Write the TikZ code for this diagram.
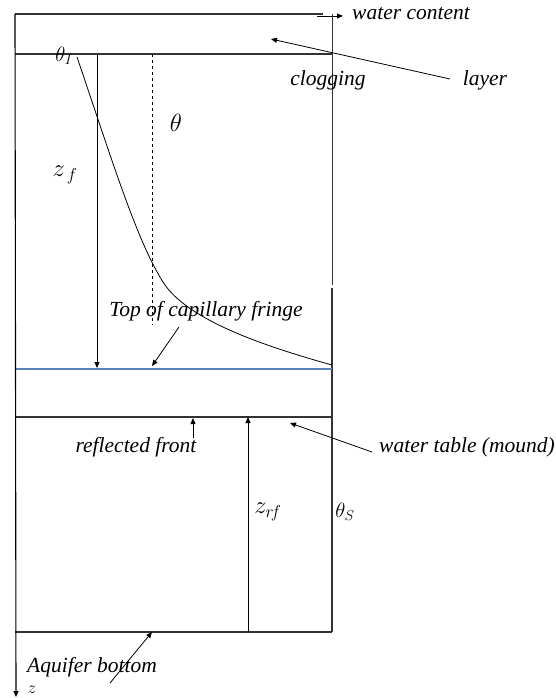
\documentclass[tikz,border=0pt]{standalone}
\usepackage{fontspec}
\setmainfont{Liberation Serif}
\usetikzlibrary{arrows.meta}
\begin{document}
\begin{tikzpicture}[x=1pt,y=-1pt,
  frame/.style={line width=1.3pt,draw=black!80},
  arr/.style={-{Triangle[length=6pt,width=5pt]},line width=0.8pt},
  lbl/.style={font=\fontsize{21.5}{22}\selectfont\itshape,inner sep=0pt},
  mlbl/.style={inner sep=0pt}]
\useasboundingbox (0,0) rectangle (555,698);
% coordinates
\coordinate (tl) at (15,14);
\coordinate (tr) at (323,14);
\coordinate (rtop) at (332,14);
\coordinate (cl) at (15,54);
\coordinate (cr) at (332,54);
\coordinate (rgap) at (332,285);
\coordinate (rgap2) at (332,288);
\coordinate (bl) at (15,369);
\coordinate (br) at (332,369);
\coordinate (wl) at (15,417);
\coordinate (wr) at (332,417);
\coordinate (al) at (15,632);
\coordinate (ar) at (332,632);
\coordinate (zend) at (16,697);
% frame lines
\draw[frame] (tl) -- (tr);
\draw[arr] (317,16) coordinate (wa0) -- (343,16) coordinate (wa1);
\draw[frame,line width=1pt] (rtop) -- (rgap);
\draw[frame,line width=1.6pt] (rgap2) -- (ar);
\draw[frame] (cl) -- (cr);
\draw[line width=1.8pt,draw={rgb,255:red,91;green,128;blue,184}] (bl) -- (br);
\draw[frame] (wl) -- (wr);
\draw[frame] (al) -- (ar);
\draw[arr,line width=1.1pt] (tl) -- (zend);
% z_f arrow
\coordinate (zf0) at (97,54);
\coordinate (zf1) at (97,368);
\draw[arr] (zf0) -- (zf1);
% dashed
\coordinate (d0) at (152,54);
\coordinate (d1) at (152,325);
\draw[dashed,line width=0.7pt] (d0) -- (d1);
% curve
\coordinate (cs) at (77,57);
\coordinate (cm) at (165,285);
\coordinate (ce) at (332,365);
\draw[line width=0.8pt] (cs) .. controls (112,160) and (138,245) .. (cm)
  .. controls (190,320) and (260,345) .. (ce);
% z_rf arrow
\coordinate (zr0) at (248,632);
\coordinate (zr1) at (248,417);
\draw[arr] (zr0) -- (zr1);
% labels
\node[lbl,anchor=west] (wc) at (352,14) {water content};
\node[lbl] (clog) at (328,80) {clogging};
\node[lbl] (lay) at (485,80) {layer};
\coordinate (la0) at (450,79);
\coordinate (la1) at (271,39);
\draw[arr] (la0) -- (la1);
\node[mlbl,font=\fontsize{21}{21}\selectfont] (thI) at (64,56) {$\theta_I$};
\node[mlbl,font=\fontsize{24}{24}\selectfont] (th) at (176,123) {$\theta$};
\node[mlbl,font=\fontsize{25}{25}\selectfont] (zf) at (65,175) {$z_{\,f}$};
\node[lbl] (tcf) at (206,311) {Top of capillary fringe};
\coordinate (tc0) at (179,327);
\coordinate (tc1) at (152,366);
\draw[arr] (tc0) -- (tc1);
\node[lbl] (rf) at (136,447) {reflected front};
\coordinate (rf0) at (193,438);
\coordinate (rf1) at (193,418);
\draw[arr] (rf0) -- (rf1);
\node[lbl,anchor=west] (wt) at (379,447) {water table (mound)};
\coordinate (wt0) at (372,452);
\coordinate (wt1) at (290,423);
\draw[arr] (wt0) -- (wt1);
\node[mlbl,font=\fontsize{24}{24}\selectfont] (zrf) at (268,512) {$z_{r\!f}$};
\node[mlbl,font=\fontsize{21}{21}\selectfont] (ths) at (345,512) {$\theta_S$};
\node[lbl] (aq) at (92,667) {Aquifer bottom};
\coordinate (aq0) at (110,683);
\coordinate (aq1) at (152,632);
\draw[arr] (aq0) -- (aq1);
\node[mlbl,font=\fontsize{16}{16}\selectfont] (z) at (32,690) {$z$};
\end{tikzpicture}
\end{document}
